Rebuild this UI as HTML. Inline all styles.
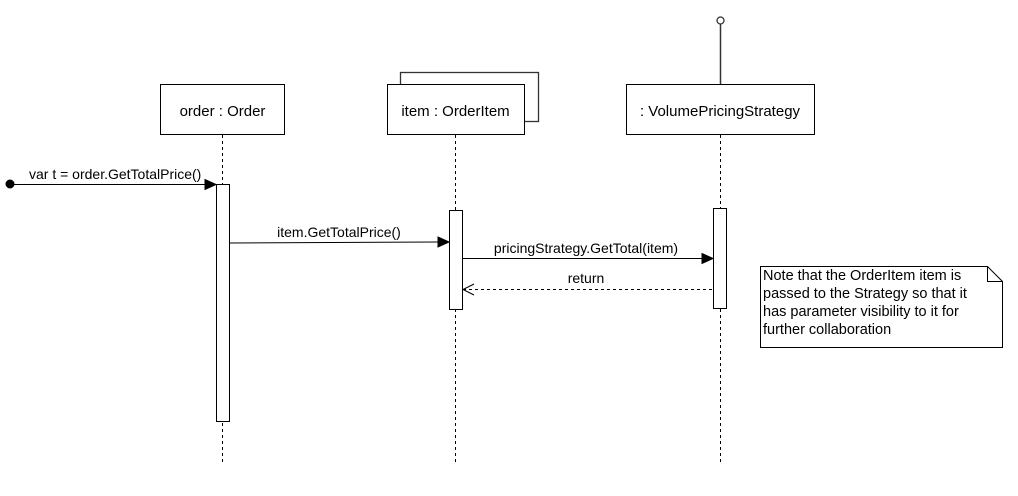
<!DOCTYPE html>
<html><head><meta charset="utf-8"><style>
html,body{margin:0;padding:0;background:#fff;}
svg{display:block;}
text{font-family:"Liberation Sans",Arial,sans-serif;fill:#000;}
</style></head><body>
<svg width="1018" height="496" viewBox="0 0 1018 496" xmlns="http://www.w3.org/2000/svg">
<g stroke="#000" fill="none" stroke-width="1">
 <line x1="222.5" y1="135" x2="222.5" y2="462" stroke-dasharray="3,3"/>
 <line x1="455.5" y1="135" x2="455.5" y2="462" stroke-dasharray="3,3"/>
 <line x1="720.5" y1="135" x2="720.5" y2="462" stroke-dasharray="3,3"/>
 <line x1="720.5" y1="24" x2="720.5" y2="84" stroke="#333" stroke-width="1.5"/>
 <circle cx="720.5" cy="20.5" r="3.5" fill="#fff" stroke="#333" stroke-width="1.3"/>
 <rect x="160.5" y="84.5" width="124" height="50" fill="#fff"/>
 <rect x="400.5" y="72.5" width="138" height="49" fill="#fff" stroke="#333" stroke-width="1.3"/>
 <rect x="387.5" y="84.5" width="137" height="50" fill="#fff"/>
 <rect x="626.5" y="84.5" width="188" height="50" fill="#fff"/>
 <rect x="216.5" y="184.5" width="13" height="237" fill="#fff"/>
 <rect x="449.5" y="210.5" width="13" height="99" fill="#fff"/>
 <rect x="713.5" y="208.5" width="13" height="100" fill="#fff"/>
 <circle cx="10" cy="184" r="4" fill="#000"/>
 <line x1="10" y1="184.5" x2="206" y2="184.5"/>
 <polygon points="216,184.5 205,179.5 205,189.5" fill="#000"/>
 <line x1="230" y1="243" x2="439" y2="242"/>
 <polygon points="449,242 438,237 438,247" fill="#000"/>
 <line x1="462" y1="258.5" x2="703" y2="258.5"/>
 <polygon points="713,258.5 702,253.5 702,263.5" fill="#000"/>
 <line x1="712" y1="289.5" x2="463" y2="289.5" stroke-dasharray="3,3"/>
 <polyline points="474,284 463,289.5 474,295"/>
 <path d="M760.5 266.5 H987.5 L1002.5 281.5 V347.5 H760.5 Z" fill="#fff"/>
 <path d="M987.5 266.5 V281.5 H1002.5"/>
</g>
<text x="222.5" y="116" text-anchor="middle" style="font-size:15px">order : Order</text>
<text x="455.5" y="116" text-anchor="middle" style="font-size:15px">item : OrderItem</text>
<text x="720" y="116" text-anchor="middle" style="font-size:15px">: VolumePricingStrategy</text>
<text x="29" y="179" style="font-size:14px">var t = order.GetTotalPrice()</text>
<text x="339" y="237" text-anchor="middle" style="font-size:14px">item.GetTotalPrice()</text>
<text x="586" y="253" text-anchor="middle" style="font-size:14px">pricingStrategy.GetTotal(item)</text>
<text x="586" y="283" text-anchor="middle" style="font-size:14px">return</text>
<text x="763" y="280" style="font-size:14.5px">Note that the OrderItem item is</text>
<text x="763" y="298" style="font-size:14.5px">passed to the Strategy so that it</text>
<text x="763" y="316" style="font-size:14.5px">has parameter visibility to it for</text>
<text x="763" y="334" style="font-size:14.5px">further collaboration</text>
</svg>
</body></html>
